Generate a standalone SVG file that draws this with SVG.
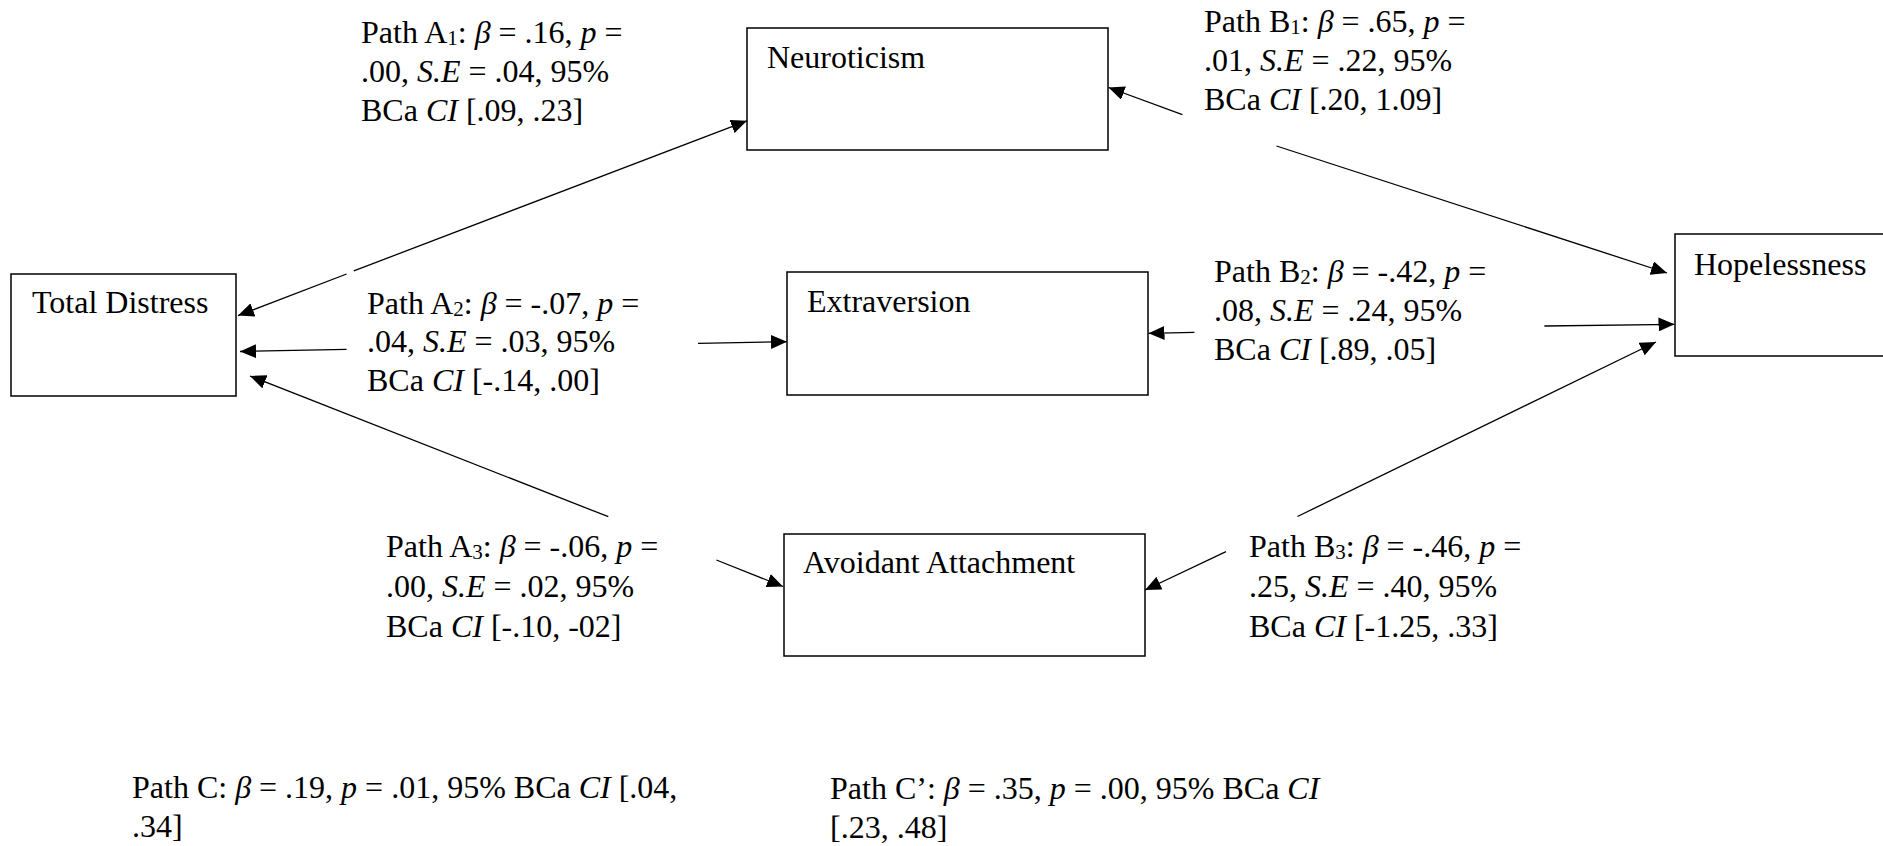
<svg xmlns="http://www.w3.org/2000/svg" width="1883" height="846" viewBox="0 0 1883 846">
<style>
  text { font-family: "Liberation Serif", "Times New Roman", serif; font-size: 32px; fill: #000; }
  .i { font-style: italic; }
  .sub { font-size: 21px; }
  .box { fill: #fff; stroke: #000; stroke-width: 1.5; }
  .conn line { stroke: #000; stroke-width: 1.3; fill: none; }
  .arr { marker-end: url(#ah); }
</style>
<defs>
  <marker id="ah" markerUnits="userSpaceOnUse" markerWidth="17" markerHeight="14" refX="16" refY="7" orient="auto">
    <path d="M0,0 L16,7 L0,14 z" fill="#000"/>
  </marker>
</defs>
<rect width="1883" height="846" fill="#fff"/>

<g id="node-total-distress">
  <rect class="box" x="11" y="274" width="225" height="122"/>
  <text x="32" y="313">Total Distress</text>
</g>
<g id="node-neuroticism">
  <rect class="box" x="747" y="28" width="361" height="122"/>
  <text x="767" y="68">Neuroticism</text>
</g>
<g id="node-extraversion">
  <rect class="box" x="787" y="272" width="361" height="123"/>
  <text x="807" y="312">Extraversion</text>
</g>
<g id="node-avoidant">
  <rect class="box" x="784" y="534" width="361" height="122"/>
  <text x="803" y="573">Avoidant Attachment</text>
</g>
<g id="node-hopelessness">
  <rect class="box" x="1675" y="234" width="230" height="122"/>
  <text x="1694" y="275">Hopelessness</text>
</g>

<g id="connectors" class="conn">
  <line class="arr" x1="353.8" y1="270.9" x2="747" y2="120.8"/>
  <line class="arr" x1="346.6" y1="274" x2="238" y2="315.6"/>
  <line class="arr" x1="346.6" y1="349.3" x2="240" y2="351.5"/>
  <line class="arr" x1="698" y1="343.3" x2="787" y2="341.7"/>
  <line class="arr" x1="608.3" y1="516.7" x2="250" y2="376"/>
  <line class="arr" x1="716.4" y1="560" x2="783" y2="586.5"/>
  <line class="arr" x1="1182.4" y1="114.7" x2="1108.5" y2="87.5"/>
  <line class="arr" x1="1276.5" y1="146" x2="1667" y2="273"/>
  <line class="arr" x1="1194.4" y1="332.3" x2="1148.5" y2="333.3"/>
  <line class="arr" x1="1544.4" y1="326" x2="1674.5" y2="324.3"/>
  <line class="arr" x1="1226" y1="551.7" x2="1145" y2="590"/>
  <line class="arr" x1="1297.5" y1="516.5" x2="1656" y2="342"/>
</g>

<g id="label-a1">
  <text x="361" y="43">Path A<tspan class="sub" dy="2">1</tspan><tspan dy="-2">: </tspan><tspan class="i">β</tspan> = .16, <tspan class="i">p</tspan> =</text>
  <text x="361" y="82">.00, <tspan class="i">S.E</tspan> = .04, 95%</text>
  <text x="361" y="121">BCa <tspan class="i">CI</tspan> [.09, .23]</text>
</g>
<g id="label-b1">
  <text x="1204" y="32">Path B<tspan class="sub" dy="2">1</tspan><tspan dy="-2">: </tspan><tspan class="i">β</tspan> = .65, <tspan class="i">p</tspan> =</text>
  <text x="1204" y="71">.01, <tspan class="i">S.E</tspan> = .22, 95%</text>
  <text x="1204" y="110">BCa <tspan class="i">CI</tspan> [.20, 1.09]</text>
</g>
<g id="label-a2">
  <text x="367" y="314">Path A<tspan class="sub" dy="2">2</tspan><tspan dy="-2">: </tspan><tspan class="i">β</tspan> = -.07, <tspan class="i">p</tspan> =</text>
  <text x="367" y="352">.04, <tspan class="i">S.E</tspan> = .03, 95%</text>
  <text x="367" y="391">BCa <tspan class="i">CI</tspan> [-.14, .00]</text>
</g>
<g id="label-b2">
  <text x="1214" y="282">Path B<tspan class="sub" dy="2">2</tspan><tspan dy="-2">: </tspan><tspan class="i">β</tspan> = -.42, <tspan class="i">p</tspan> =</text>
  <text x="1214" y="321">.08, <tspan class="i">S.E</tspan> = .24, 95%</text>
  <text x="1214" y="360">BCa <tspan class="i">CI</tspan> [.89, .05]</text>
</g>
<g id="label-a3">
  <text x="386" y="557">Path A<tspan class="sub" dy="2">3</tspan><tspan dy="-2">: </tspan><tspan class="i">β</tspan> = -.06, <tspan class="i">p</tspan> =</text>
  <text x="386" y="597">.00, <tspan class="i">S.E</tspan> = .02, 95%</text>
  <text x="386" y="637">BCa <tspan class="i">CI</tspan> [-.10, -02]</text>
</g>
<g id="label-b3">
  <text x="1249" y="557">Path B<tspan class="sub" dy="2">3</tspan><tspan dy="-2">: </tspan><tspan class="i">β</tspan> = -.46, <tspan class="i">p</tspan> =</text>
  <text x="1249" y="597">.25, <tspan class="i">S.E</tspan> = .40, 95%</text>
  <text x="1249" y="637">BCa <tspan class="i">CI</tspan> [-1.25, .33]</text>
</g>
<g id="label-c">
  <text x="132" y="798">Path C: <tspan class="i">β</tspan> = .19, <tspan class="i">p</tspan> = .01, 95% BCa <tspan class="i">CI</tspan> [.04,</text>
  <text x="132" y="837">.34]</text>
</g>
<g id="label-c-prime">
  <text x="830" y="799">Path C’: <tspan class="i">β</tspan> = .35, <tspan class="i">p</tspan> = .00, 95% BCa <tspan class="i">CI</tspan></text>
  <text x="830" y="838">[.23, .48]</text>
</g>
</svg>
